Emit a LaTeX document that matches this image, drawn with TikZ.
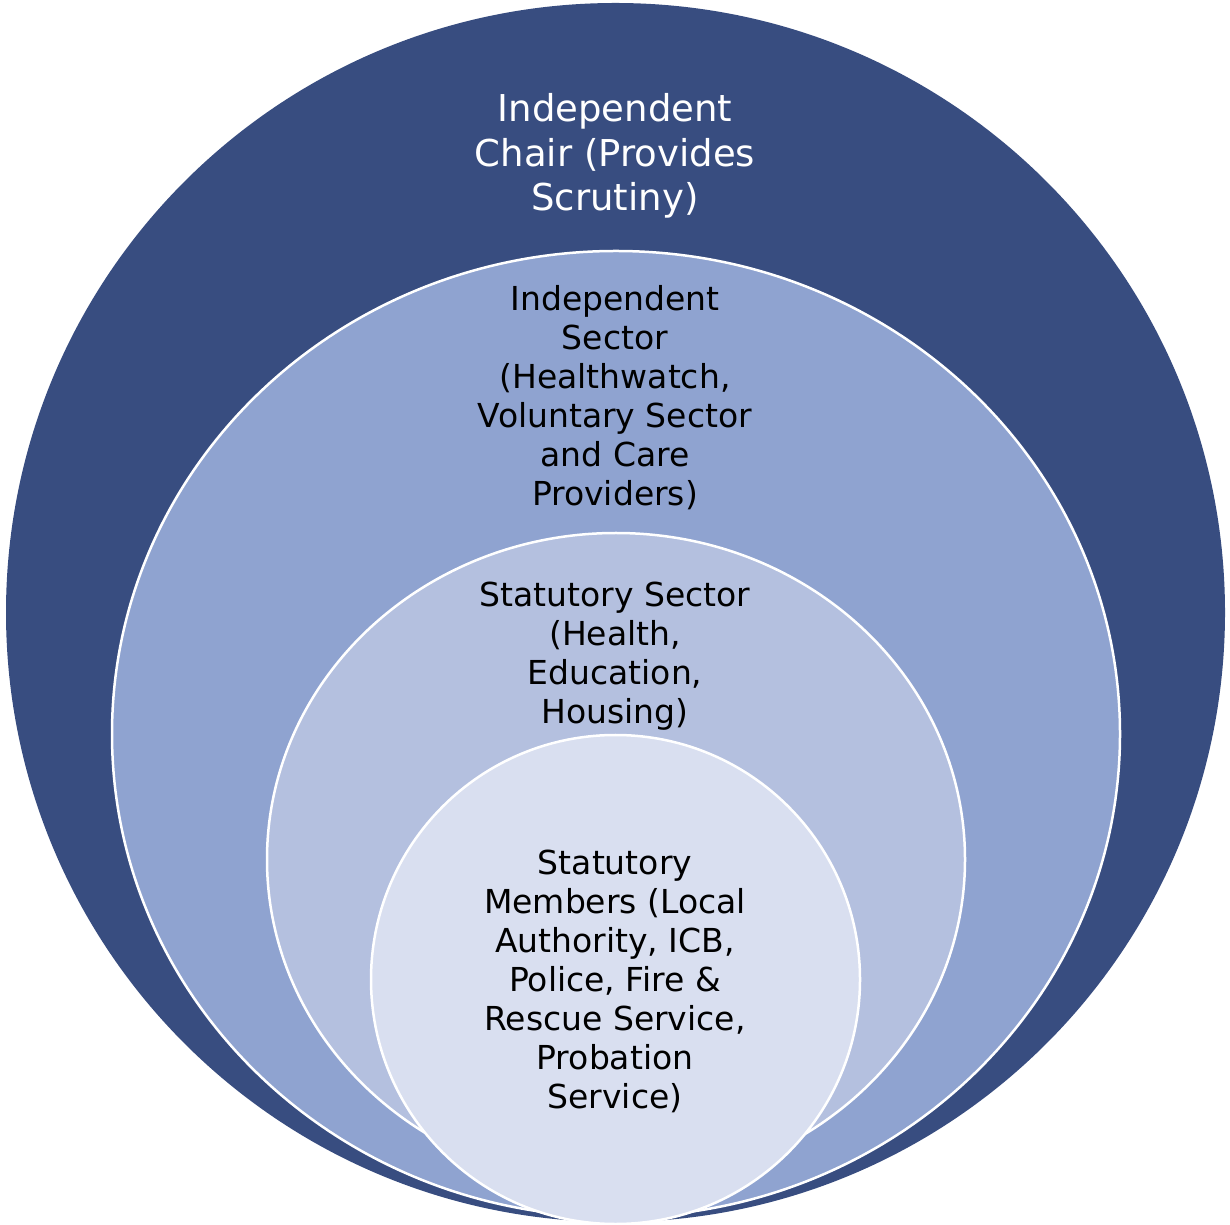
\documentclass[tikz,border=0pt]{standalone}
\usepackage{fontspec}
\setmainfont{DejaVu Sans}
\usepackage{xcolor}
\usepackage{tikz}
\usetikzlibrary{positioning}
\definecolor{chairblue}{RGB}{56,77,128}
\definecolor{indepblue}{RGB}{143,163,208}
\definecolor{statblue}{RGB}{180,192,223}
\definecolor{memberblue}{RGB}{217,223,240}
\tikzset{%
         ring/.style = { draw=white, line width=2.5pt },
        label/.style = { black, align=center, anchor=center, inner sep=0pt,
                         font={\fontsize{33}{39}\selectfont} },
     toplabel/.style = { label, white, font={\fontsize{37}{44.5}\selectfont} }
}

\begin{document}
\begin{tikzpicture}[x=1pt,y=1pt]
\useasboundingbox (0,0) rectangle (1230,1224);
% nested circles
\fill[chairblue] (615.5,611.5) circle[radius=609.5];
\filldraw[ring,fill=indepblue] (616,490) ellipse[x radius=504,y radius=483];
\filldraw[ring,fill=statblue] (616,364.5) ellipse[x radius=349,y radius=326.5];
\filldraw[ring,fill=memberblue] (615.5,244.5) circle[radius=244.5];
% labels
\node[toplabel] (chair) at (615,1068) {Independent\\Chair (Provides\\Scrutiny)};
\node[label] (indep) at (615,826.5) {Independent\\Sector\\(Healthwatch,\\Voluntary Sector\\and Care\\Providers)};
\node[label] (stat) at (615,567.5) {Statutory Sector\\(Health,\\Education,\\Housing)};
\node[label] (members) at (615,243) {Statutory\\Members (Local\\Authority, ICB,\\Police, Fire \&\\Rescue Service,\\Probation\\Service)};
\end{tikzpicture}
\end{document}
